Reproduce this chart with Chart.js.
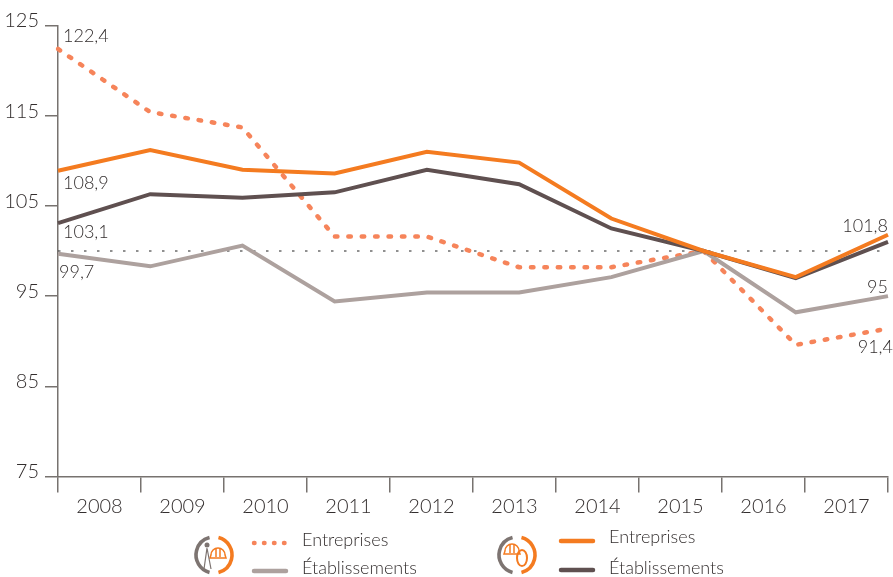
<!DOCTYPE html>
<html lang="fr"><head><meta charset="utf-8">
<script src="https://cdn.jsdelivr.net/npm/chart.js@4"></script>
<style>html,body{margin:0;padding:0;background:#fff}canvas{display:block}</style>
</head><body><canvas id="c" width="893" height="577"></canvas>
<script>
const years = ['2008','2009','2010','2011','2012','2013','2014','2015','2016','2017'];
const yTickValues = [75,85,95,105,115,125];
const entreprisesDotted = [122.4,115.4,113.7,101.6,101.6,98.2,98.2,100,89.6,91.4];
const etablissementsGrey = [99.7,98.3,100.6,94.4,95.4,95.4,97.1,100,93.2,95];
const entreprisesSolid = [108.9,111.2,109.0,108.6,111.0,109.8,103.6,100,97.1,101.8];
const etablissementsDark = [103.1,106.3,105.9,106.5,109.0,107.4,102.5,100,97.0,101.0];
const reference = [100,100,100,100,100,100,100,100,100,100];
const legendGroups = [['Entreprises','Établissements'],['Entreprises','Établissements']];
const FONT='Lato, sans-serif', TXT='#332e2e';
const COL={dot:'#F6845A',solid:'#F47B20',dark:'#5F5050',grey:'#ADA19E',axis:'#77726f'};

// value label: [dataset array, index, text, dx, dy]
const valueLabels = [
 [entreprisesDotted,0,'122,4',5,-13,'left'],
 [entreprisesSolid,0,'108,9',5,12,'left'],
 [etablissementsDark,0,'103,1',5,9,'left'],
 [etablissementsGrey,0,'99,7',1,18,'left'],
 [entreprisesSolid,9,'101,8',0,-9,'right'],
 [etablissementsGrey,9,'95',0,-9,'right'],
 [entreprisesDotted,9,'91,4',5,19,'right']
];
const extras={id:'extras',afterDatasetsDraw(ch){
 const c=ch.ctx,x=ch.scales.xLine,y=ch.scales.y;
 c.save();c.fillStyle=TXT;c.font='300 18px '+FONT;c.textBaseline='middle';
 valueLabels.forEach(([a,i,t,dx,dy,al])=>{c.textAlign=al;c.fillText(t,x.getPixelForValue(i)+dx,y.getPixelForValue(a[i])+dy);});
 c.restore();
},afterDraw(ch){
 const c=ch.ctx;c.save();
 const sw=(x,y,col,dot)=>{c.beginPath();c.lineCap='round';c.lineWidth=4.5;c.strokeStyle=col;c.setLineDash(dot?[0.5,9.5]:[]);c.moveTo(x,y);c.lineTo(x+(dot?33:32),y);c.stroke();c.setLineDash([]);};
 const ring=(cx,cy)=>{c.lineCap='butt';c.lineWidth=3.6;c.strokeStyle='#7d7471';c.beginPath();c.arc(cx,cy,18,Math.PI*0.58,Math.PI*1.42);c.stroke();
  c.strokeStyle=COL.solid;c.beginPath();c.arc(cx,cy,18,-Math.PI*0.42,Math.PI*0.42);c.stroke();};
 const helmet=(cx,cy)=>{c.strokeStyle=COL.solid;c.lineWidth=1.5;c.beginPath();c.arc(cx,cy,7,Math.PI,0);c.lineTo(cx+8,cy+3);c.lineTo(cx-8,cy+3);c.closePath();c.stroke();
  c.beginPath();c.moveTo(cx-2,cy-7);c.lineTo(cx-2,cy+2);c.moveTo(cx+2,cy-7);c.lineTo(cx+2,cy+2);c.stroke();};
 ring(214,555);helmet(218,555);
 c.strokeStyle='#7d7471';c.lineWidth=1.2;c.beginPath();c.moveTo(207,548);c.lineTo(204,569);c.moveTo(207,548);c.lineTo(211,569);c.stroke();
 c.fillStyle='#7d7471';c.beginPath();c.arc(207,545,2.5,0,7);c.fill();
 ring(517,555);helmet(512,551);
 c.strokeStyle=COL.solid;c.lineWidth=2;c.beginPath();c.ellipse(522,558,5,8,0,0,7);c.stroke();
 sw(254,543,COL.dot,true);sw(254,571,COL.grey);sw(561,541,COL.solid);sw(561,570,COL.dark);
 c.fillStyle=TXT;c.font='300 18px '+FONT;c.textAlign='left';c.textBaseline='middle';
 c.fillText(legendGroups[0][0],302,540);c.fillText(legendGroups[0][1],302,568);
 c.fillText(legendGroups[1][0],609,537);c.fillText(legendGroups[1][1],609,568);
 c.restore();
}};
const line=(label,data,col,w,dash,order)=>({label,data,borderColor:col,backgroundColor:col,borderWidth:w,borderDash:dash,
 borderCapStyle:dash.length&&w>2?'round':'butt',borderJoinStyle:'miter',pointRadius:0,tension:0,fill:false,order,xAxisID:'xLine',yAxisID:'y'});
new Chart(document.getElementById('c'),{type:'line',
 data:{labels:years,datasets:[
  line('Référence',reference,'#222',1.1,[2.5,10.5],5),
  line('Entreprises (pointillé)',entreprisesDotted,COL.dot,4.5,[2.5,10.9],4),
  line('Établissements (gris)',etablissementsGrey,COL.grey,4,[],3),
  line('Établissements (foncé)',etablissementsDark,COL.dark,4,[],2),
  line('Entreprises',entreprisesSolid,COL.solid,4,[],1)
 ]},
 options:{responsive:false,animation:false,
  layout:{padding:{left:0,right:5,top:25.5,bottom:0}},
  plugins:{legend:{display:false},tooltip:{enabled:false}},
  scales:{
   x:{type:'category',labels:years,offset:true,position:'bottom',
    afterFit(s){s.height=100.5;},
    border:{color:COL.axis,width:1.5},
    grid:{offset:true,drawOnChartArea:false,drawTicks:true,tickLength:16,color:COL.axis,lineWidth:1.5},
    ticks:{color:TXT,font:{family:FONT,size:20,weight:'300'},padding:2,maxRotation:0,autoSkip:false}},
   xLine:{type:'category',labels:years,offset:false,display:false},
   y:{min:75,max:125,position:'left',
    afterFit(s){s.width=58;},
    afterBuildTicks(s){s.ticks=yTickValues.map(v=>({value:v}));},
    border:{color:COL.axis,width:1.5},
    grid:{drawOnChartArea:false,tickLength:13,color:COL.axis,lineWidth:1.5},
    ticks:{color:TXT,font:{family:FONT,size:20,weight:'300'},padding:6,labelOffset:-4.5}}
  }},
 plugins:[extras]});
</script></body></html>
